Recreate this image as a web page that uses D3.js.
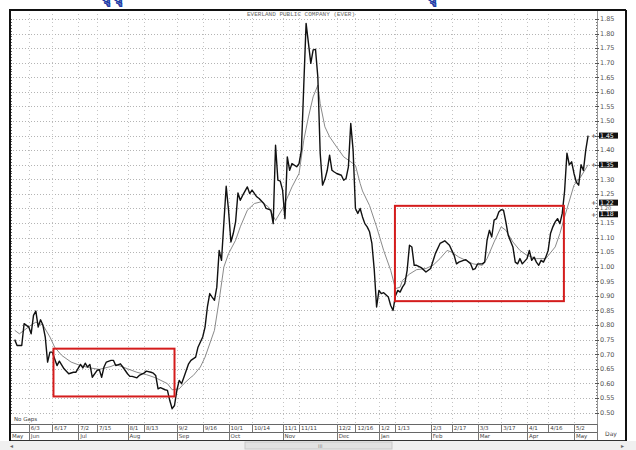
<!DOCTYPE html>
<html>
<head>
<meta charset="utf-8">
<script src="https://cdn.jsdelivr.net/npm/d3@7/dist/d3.min.js"></script>
<style>
  body { margin: 0; background: #fff; }
  svg text { font-family: "DejaVu Sans", sans-serif; }
</style>
</head>
<body>
<div id="chart"></div>
<script>
// trading day index (0 = first bar shown) and closing price
const closeDay = [2,3,5,6,8,9,10,11,12,13,14,15,16,17,18,20,21,23,25,27,28,30,31,32,33,34,35,37,38,39,40,41,43,44,45,47,48,50,51,52,54,55,57,58,60,61,62,63,64,66,67,68,69,70,71,72,73,74,75,76,77,79,80,82,83,84,85,86,87,88,89,90,91,92,93,94,95,96,97,98,99,101,102,103,105,106,108,109,111,112,113,114,115,116,117,118,119,120,122,123,124,125,126,127,128,129,130,131,132,133,134,135,136,137,138,139,141,142,143,144,145,146,147,148,149,150,151,152,153,154,155,156,157,158,159,161,162,163,164,165,166,167,168,169,170,171,172,173,175,177,179,181,183,185,187,189,190,191,193,194,196,197,198,199,201,202,203,204,205,206,207,208,209,210,211,212,214,215,216,217,218,220,221,222,223,224,225,226,227,228,229,230,231,232,233,234,235,236,237,238,239,240,241,242,243,244,245,246]
const closeVal = [0.75,0.73,0.73,0.805,0.793,0.77,0.833,0.848,0.793,0.818,0.80,0.759,0.673,0.707,0.707,0.661,0.676,0.65,0.633,0.638,0.638,0.665,0.653,0.669,0.656,0.665,0.621,0.644,0.647,0.621,0.656,0.673,0.679,0.679,0.661,0.667,0.656,0.633,0.624,0.624,0.619,0.627,0.635,0.642,0.638,0.635,0.627,0.581,0.585,0.578,0.576,0.541,0.513,0.524,0.576,0.61,0.599,0.621,0.644,0.667,0.679,0.69,0.724,0.759,0.793,0.862,0.908,0.896,0.885,0.93,1.056,1.022,1.15,1.276,1.194,1.085,1.114,1.154,1.253,1.228,1.245,1.274,1.251,1.263,1.24,1.234,1.217,1.2,1.194,1.148,1.417,1.297,1.294,1.263,1.165,1.377,1.331,1.354,1.343,1.354,1.40,1.62,1.835,1.767,1.698,1.744,1.746,1.65,1.389,1.28,1.30,1.331,1.383,1.331,1.325,1.32,1.314,1.297,1.303,1.343,1.492,1.40,1.20,1.183,1.20,1.171,1.148,1.137,1.12,1.08,0.99,0.862,0.919,0.908,0.911,0.896,0.867,0.85,0.90,0.919,0.913,0.93,0.942,0.988,1.074,1.068,1.005,1.005,0.997,0.982,0.994,1.045,1.08,1.089,1.074,1.039,1.01,1.016,1.022,1.024,1.01,0.99,0.994,1.01,1.01,1.016,1.091,1.125,1.102,1.16,1.165,1.188,1.196,1.194,1.154,1.108,1.068,1.016,1.01,1.028,1.01,1.028,1.056,1.022,1.033,1.016,1.005,1.022,1.016,1.033,1.056,1.114,1.137,1.154,1.165,1.148,1.183,1.26,1.39,1.35,1.36,1.32,1.29,1.28,1.35,1.33,1.40,1.45]

// moving average line
const maDay = [2,4,9,11,14,17,19,22,26,30,34,38,43,45,50,54,58,62,67,69,72,74,77,78,81,83,87,89,91,93,96,98,101,104,107,110,113,116,120,123,125,127,129,131,132,134,136,139,142,145,147,149,150,153,156,159,162,164,166,167,170,173,177,180,183,186,188,191,194,197,201,203,206,209,211,214,217,220,224,228,232,234,236,240,243,246]
const maVal = [0.782,0.77,0.80,0.81,0.80,0.759,0.724,0.696,0.673,0.661,0.653,0.648,0.658,0.665,0.65,0.638,0.63,0.619,0.599,0.578,0.581,0.599,0.621,0.627,0.656,0.69,0.782,0.885,0.999,1.045,1.091,1.137,1.194,1.217,1.223,1.205,1.159,1.20,1.274,1.32,1.434,1.514,1.583,1.623,1.56,1.48,1.446,1.411,1.377,1.36,1.348,1.286,1.26,1.21,1.137,1.056,0.988,0.925,0.93,0.953,0.975,0.99,0.994,1.005,1.028,1.056,1.05,1.033,1.022,1.01,1.005,1.028,1.085,1.137,1.125,1.085,1.056,1.039,1.028,1.028,1.068,1.114,1.171,1.28,1.31,1.35]

const dateTickDay = [8,18,29,37,50,57,71,82,93,103,116,123,139,147,157,164,179,188,199,209,220,229,240]
const dateTickLabel = ["6/3","6/17","7/2","7/15","8/1","8/13","9/2","9/16","10/1","10/14","11/1","11/11","12/2","12/16","1/2","1/13","2/3","2/17","3/3","3/17","4/1","4/16","5/2"]
const monthDay = [0,8,29,50,71,93,116,139,157,179,199,220,240]
const monthLabel = ["May","Jun","Jul","Aug","Sep","Oct","Nov","Dec","Jan","Feb","Mar","Apr","May"]
const priceTicks = [0.50,0.55,0.60,0.65,0.70,0.75,0.80,0.85,0.90,0.95,1.00,1.05,1.10,1.15,1.20,1.25,1.30,1.35,1.40,1.45,1.50,1.55,1.60,1.65,1.70,1.75,1.80,1.85]
const markedLevels = [1.45, 1.35, 1.22, 1.18]

// highlight boxes drawn on the chart (day range, price range)
const boxDays = [[18.5, 70], [163.8, 235.7]]
const boxPrices = [[0.555, 0.719], [0.882, 1.209]]

const W = 636, H = 450
const plotLeft = 10, plotRight = 597, plotTop = 10, plotBottom = 424, frameRight = 626

const svg = d3.select("#chart").append("svg")
    .attr("width", W)
    .attr("height", H)

const x = d3.scaleLinear().domain([0, 250]).range([plotLeft, plotRight + 0.5])
const y = d3.scaleLinear().domain([0.50, 1.85]).range([412.5, 19])

// cut-off heading above the frame
svg.append("text")
    .attr("x", 102).attr("y", 1)
    .attr("fill", "#1f3fa8").attr("font-weight", "bold").attr("font-size", 13)
    .style("font-family", "Noto Sans")
    .text("ฎู ฎู")
svg.append("text")
    .attr("x", 428).attr("y", 1)
    .attr("fill", "#1f3fa8").attr("font-weight", "bold").attr("font-size", 13)
    .style("font-family", "Noto Sans")
    .text("ฎู")

// grid
svg.append("g").selectAll("line")
    .data(priceTicks)
    .enter().append("line")
    .attr("x1", plotLeft).attr("x2", plotRight)
    .attr("y1", d => Math.round(y(d)) + 0.5).attr("y2", d => Math.round(y(d)) + 0.5)
    .attr("stroke", "#b4b4b4").attr("stroke-dasharray", "1,2")

svg.append("g").selectAll("line")
    .data(dateTickDay)
    .enter().append("line")
    .attr("x1", d => Math.round(x(d)) + 0.5).attr("x2", d => Math.round(x(d)) + 0.5)
    .attr("y1", plotTop).attr("y2", plotBottom)
    .attr("stroke", "#c4c4c4").attr("stroke-dasharray", "1,3")

// minor ticks on the left edge and right axis
const minor = d3.range(50, 186).map(d => d / 100)
svg.append("g").selectAll("line")
    .data(minor)
    .enter().append("line")
    .attr("x1", plotLeft).attr("x2", plotLeft + 2)
    .attr("y1", d => Math.round(y(d)) + 0.5).attr("y2", d => Math.round(y(d)) + 0.5)
    .attr("stroke", "#666")
svg.append("g").selectAll("line")
    .data(minor)
    .enter().append("line")
    .attr("x1", plotRight - 1).attr("x2", plotRight + 1)
    .attr("y1", d => Math.round(y(d)) + 0.5).attr("y2", d => Math.round(y(d)) + 0.5)
    .attr("stroke", "#777")

// right price axis
svg.append("line")
    .attr("x1", plotRight + 0.5).attr("x2", plotRight + 0.5)
    .attr("y1", plotTop).attr("y2", plotBottom)
    .attr("stroke", "#999")

svg.append("g").selectAll("line")
    .data(priceTicks)
    .enter().append("line")
    .attr("x1", plotRight - 2).attr("x2", plotRight + 2)
    .attr("y1", d => Math.round(y(d)) + 0.5).attr("y2", d => Math.round(y(d)) + 0.5)
    .attr("stroke", "#555")

// highlighted last values
const marks = svg.append("g").selectAll("g")
    .data(markedLevels)
    .enter().append("g")
marks.append("rect")
    .attr("x", plotRight + 2).attr("y", d => y(d) - 3)
    .attr("width", 19).attr("height", 6)
    .attr("fill", "#111")
marks.append("text")
    .attr("x", plotRight + 3).attr("y", d => y(d) + 2.2)
    .attr("font-size", 6.2).attr("fill", "#fff")
    .text(d => d.toFixed(2))
marks.append("text")
    .attr("x", plotRight - 6).attr("y", d => y(d) + 2.3)
    .attr("font-size", 6.5).attr("fill", "#333")
    .text("+")

// price labels (those under a highlight are skipped by the highlight itself)
svg.append("g").selectAll("text")
    .data(priceTicks.filter(d => !markedLevels.includes(d)))
    .enter().append("text")
    .attr("x", plotRight + 3)
    .attr("y", d => d === 1.20 ? y(d) + 1.8 : y(d) + 2.3)
    .attr("font-size", d => d === 1.20 ? 5 : 6.5)
    .attr("fill", "#555")
    .text(d => d.toFixed(2))

// title
svg.append("text")
    .attr("x", 301).attr("y", 16)
    .attr("text-anchor", "middle")
    .attr("font-size", 6)
    .attr("fill", "#666")
    .style("font-family", "Liberation Mono")
    .text("EVERLAND PUBLIC COMPANY (EVER)")

// moving average and close
const maPts = maDay.map((d, i) => [d, maVal[i]])
const closePts = closeDay.map((d, i) => [d, closeVal[i]])
const line = d3.line().x(d => x(d[0])).y(d => y(d[1]))

svg.append("path")
    .datum(maPts)
    .attr("d", line)
    .attr("fill", "none")
    .attr("stroke", "#8a8a8a")
    .attr("stroke-width", 1)

svg.append("path")
    .datum(closePts)
    .attr("d", line)
    .attr("fill", "none")
    .attr("stroke", "#111")
    .attr("stroke-width", 1.4)
    .attr("stroke-linejoin", "round")

// red boxes
svg.append("g").selectAll("rect")
    .data(boxDays)
    .enter().append("rect")
    .attr("x", d => x(d[0]))
    .attr("width", d => x(d[1]) - x(d[0]))
    .attr("y", (d, i) => y(boxPrices[i][1]))
    .attr("height", (d, i) => y(boxPrices[i][0]) - y(boxPrices[i][1]))
    .attr("fill", "none")
    .attr("stroke", "#d41c1c")
    .attr("stroke-width", 2)

svg.append("text")
    .attr("x", 14).attr("y", 421)
    .attr("font-size", 5.5).attr("fill", "#444")
    .text("No Gaps")

// bottom date / month rows
const row1 = 424, row2 = 432, rowEnd = 440
svg.append("rect")
    .attr("x", plotLeft).attr("y", row1).attr("width", frameRight - plotLeft).attr("height", rowEnd - row1)
    .attr("fill", "#fff")
svg.append("line").attr("x1", plotLeft).attr("x2", plotRight).attr("y1", row1 + 0.5).attr("y2", row1 + 0.5).attr("stroke", "#666")
svg.append("line").attr("x1", plotLeft).attr("x2", plotRight).attr("y1", row2 + 0.5).attr("y2", row2 + 0.5).attr("stroke", "#666")
svg.append("line").attr("x1", plotLeft).attr("x2", frameRight).attr("y1", rowEnd + 0.5).attr("y2", rowEnd + 0.5).attr("stroke", "#333")

svg.append("g").selectAll("line")
    .data(dateTickDay)
    .enter().append("line")
    .attr("x1", d => Math.round(x(d)) + 0.5).attr("x2", d => Math.round(x(d)) + 0.5)
    .attr("y1", row1).attr("y2", row2)
    .attr("stroke", "#777")
svg.append("g").selectAll("text")
    .data(dateTickDay)
    .enter().append("text")
    .attr("x", d => x(d) + 2).attr("y", row2 - 2)
    .attr("font-size", 5.5).attr("fill", "#444")
    .text((d, i) => dateTickLabel[i])

svg.append("g").selectAll("line")
    .data(monthDay.slice(1))
    .enter().append("line")
    .attr("x1", d => Math.round(x(d)) + 0.5).attr("x2", d => Math.round(x(d)) + 0.5)
    .attr("y1", row2).attr("y2", rowEnd)
    .attr("stroke", "#777")
svg.append("g").selectAll("text")
    .data(monthDay)
    .enter().append("text")
    .attr("x", d => Math.max(x(d), plotLeft) + 2).attr("y", rowEnd - 2)
    .attr("font-size", 5.5).attr("fill", "#444")
    .text((d, i) => monthLabel[i])

svg.append("text")
    .attr("x", 611).attr("y", rowEnd - 4)
    .attr("text-anchor", "middle")
    .attr("font-size", 6).attr("fill", "#444")
    .text("Day")

// scrollbar
svg.append("rect").attr("x", 0).attr("y", rowEnd + 1).attr("width", W).attr("height", H - rowEnd - 1).attr("fill", "#f0f0f0")
svg.append("rect").attr("x", 245).attr("y", rowEnd + 2).attr("width", 147).attr("height", 7)
    .attr("fill", "#e2e2e2").attr("stroke", "#c8c8c8")
svg.append("text").attr("x", 318).attr("y", rowEnd + 8).attr("font-size", 5).attr("fill", "#888").text("III")
svg.append("text").attr("x", 10).attr("y", rowEnd + 8).attr("font-size", 6).attr("fill", "#666").text("◂")
svg.append("text").attr("x", 621).attr("y", rowEnd + 8).attr("font-size", 6).attr("fill", "#666").text("▸")

// frame
svg.append("line").attr("x1", plotLeft - 1).attr("x2", frameRight).attr("y1", plotTop).attr("y2", plotTop).attr("stroke", "#111").attr("stroke-width", 2)
svg.append("line").attr("x1", plotLeft).attr("x2", plotLeft).attr("y1", plotTop).attr("y2", rowEnd + 1).attr("stroke", "#111").attr("stroke-width", 2)
svg.append("line").attr("x1", frameRight).attr("x2", frameRight).attr("y1", plotTop).attr("y2", rowEnd + 1).attr("stroke", "#111").attr("stroke-width", 2)
svg.append("line").attr("x1", plotRight + 0.5).attr("x2", plotRight + 0.5).attr("y1", plotBottom).attr("y2", rowEnd).attr("stroke", "#777")
</script>
</body>
</html>
